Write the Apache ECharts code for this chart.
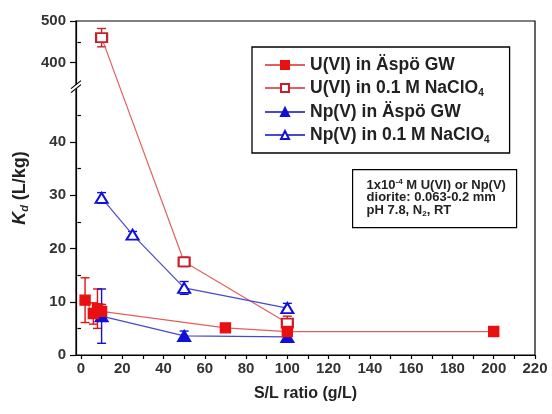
<!DOCTYPE html>
<html><head><meta charset="utf-8">
<script src="https://cdn.jsdelivr.net/npm/echarts@6/dist/echarts.min.js"></script>
<style>html,body{margin:0;padding:0;background:#fff}#c{width:552px;height:414px}</style>
</head><body><div id="c"></div><script>
// ---- tick labels ----
const xTickLabels = [0,20,40,60,80,100,120,140,160,180,200,220];
const xTicks = [0,10,20,30,40,50,60,70,80,90,100,110,120,130,140,150,160,170,180,190,200,210,220];
const yTickLabels = [0,10,20,30,40,400,500];
const yMinorTicks = [5,15,25,35,45,450];

// ---- series (x = S/L ratio g/L, y = Kd L/kg, err = +/-) ----
const uAspoX = [2,6,8,10,70,100,200];
const uAspoY = [10.3,7.8,8.7,8.2,5.1,4.4,4.4];
const uAspoErr = [4.2,2.0,3.7,1.3,0.5,0.6,0.8];

const uNaX = [10,50,100];
const uNaY = [460,17.5,6.0];
const uNaErr = [22,0.9,1.3];

const npAspoX = [10,50,100];
const npAspoY = [7.3,3.6,3.4];
const npAspoErr = [5.1,0.9,1.0];

const npNaX = [10,25,50,100];
const npNaY = [29.5,22.6,12.6,8.8];
const npNaErr = [1.0,0.6,1.2,0.9];

const names = ['U(VI) in Äspö GW','U(VI) in 0.1 M NaClO4','Np(V) in Äspö GW','Np(V) in 0.1 M NaClO4'];

// ---- broken y axis (0..48 linear, 350..500 compressed) ----
const LOW_MAX = 48, UP_MIN = 350, UP_START = 51.0, UP_K = 0.0782;
function toDisp(v){ return v <= LOW_MAX ? v : UP_START + (v - UP_MIN) * UP_K; }
function fromDisp(d){ return d <= LOW_MAX ? d : UP_MIN + (d - UP_START) / UP_K; }
const Y_MAX = toDisp(500);
const X_MIN = -2.4, X_MAX = 220;

const FONT = 'Liberation Sans';
const RED = '#e81010', RED_LINE = '#e06060', RED_DARK = '#c8202a';
const BLUE = '#1010d8', BLUE_LINE = '#4848d0';

function lineSeries(name, xs, ys, symbol, size, color, lineColor, z){
  return {
    type:'line', name, data: xs.map((x,i)=>[x, toDisp(ys[i])]),
    symbol, symbolSize:size, showAllSymbol:true,
    itemStyle:{color, borderColor:color, borderWidth:1.4},
    lineStyle:{color:lineColor, width:1.2},
    z:z, animation:false
  };
}
function errSeries(xs, ys, es, color){
  return {
    type:'custom', silent:true, z:3, animation:false,
    data: xs.map((x,i)=>[x, toDisp(ys[i]-es[i]), toDisp(ys[i]+es[i])]),
    encode:{x:0, y:[1,2]},
    renderItem:(p, api)=>{
      const lo = api.coord([api.value(0), api.value(1)]);
      const hi = api.coord([api.value(0), api.value(2)]);
      const w = 4.5;
      const st = {stroke:color, lineWidth:1.4};
      return {type:'group', children:[
        {type:'line', shape:{x1:lo[0],y1:lo[1],x2:hi[0],y2:hi[1]}, style:st},
        {type:'line', shape:{x1:lo[0]-w,y1:lo[1],x2:lo[0]+w,y2:lo[1]}, style:st},
        {type:'line', shape:{x1:hi[0]-w,y1:hi[1],x2:hi[0]+w,y2:hi[1]}, style:st}
      ]};
    }
  };
}

const chart = echarts.init(document.getElementById('c'), null, {renderer:'canvas'});
const axisLabelStyle = {fontFamily:FONT, fontSize:15, fontWeight:'bold', color:'#333'};

chart.setOption({
  animation:false,
  backgroundColor:'#fff',
  grid:{left:76, right:17, top:21, bottom:59, show:true, borderColor:'#000', borderWidth:1.2, backgroundColor:'transparent'},
  legend:{
    data:names, orient:'vertical', left:252, top:47, selectedMode:false,
    padding:[9,20,8,12], itemWidth:40, itemHeight:10, itemGap:5,
    borderColor:'#000', borderWidth:1.3, backgroundColor:'#fff',
    formatter: n => n.replace('NaClO4','NaClO{s|4}'),
    textStyle:{fontFamily:FONT, fontSize:17.5, fontWeight:'bold', color:'#222',
      rich:{s:{fontFamily:FONT, fontSize:10, fontWeight:'bold', color:'#222', padding:[10,0,0,0]}}}
  },
  xAxis:[{
    type:'value', min:X_MIN, max:X_MAX,
    axisLine:{onZero:false, lineStyle:{color:'#000', width:1.2}},
    axisTick:{customValues:xTicks, length:4, lineStyle:{color:'#000', width:1.2}},
    axisLabel:Object.assign({customValues:xTickLabels, margin:6}, axisLabelStyle),
    splitLine:{show:false},
    name:'S/L ratio (g/L)', nameLocation:'middle', nameGap:31,
    nameTextStyle:{fontFamily:FONT, fontSize:16, fontWeight:'bold', color:'#222'}
  }],
  yAxis:[{
    type:'value', min:0, max:Y_MAX,
    axisLine:{onZero:false, lineStyle:{color:'#000', width:1.2}},
    axisTick:{customValues:yTickLabels.map(toDisp), length:6, lineStyle:{color:'#000', width:1.2}},
    axisLabel:Object.assign({customValues:yTickLabels.map(toDisp), margin:10,
      formatter: v => String(Math.round(fromDisp(v)))}, axisLabelStyle),
    splitLine:{show:false},
    name:'{k|K}{d|d} (L/kg)', nameLocation:'middle', nameGap:44, nameRotate:90,
    nameTextStyle:{fontFamily:FONT, fontSize:18, fontWeight:'bold', color:'#222',
      rich:{k:{fontFamily:FONT, fontSize:18, fontWeight:'bold', fontStyle:'italic', color:'#222'},
            d:{fontFamily:FONT, fontSize:11, fontWeight:'bold', fontStyle:'italic', color:'#222', padding:[10,0,0,0]}}}
  },{
    type:'value', min:0, max:Y_MAX, position:'left',
    axisLine:{show:false},
    axisTick:{customValues:yMinorTicks.map(toDisp), length:3.5, lineStyle:{color:'#000', width:1.2}},
    axisLabel:{show:false}, splitLine:{show:false}
  }],
  series:[
    errSeries(uAspoX, uAspoY, uAspoErr, RED),
    errSeries(uNaX, uNaY, uNaErr, RED_DARK),
    errSeries(npAspoX, npAspoY, npAspoErr, BLUE),
    errSeries(npNaX, npNaY, npNaErr, BLUE),
    lineSeries(names[0], uAspoX, uAspoY, 'rect', 10, RED, RED_LINE, 5),
    lineSeries(names[1], uNaX, uNaY, 'emptyRect', [11,9], RED_DARK, RED_LINE, 4),
    lineSeries(names[2], npAspoX, npAspoY, 'triangle', [13,11], BLUE, BLUE_LINE, 4),
    lineSeries(names[3], npNaX, npNaY, 'emptyTriangle', [12,10], BLUE, BLUE_LINE, 4)
  ]
});

// break marks on the y axis and the annotation box
const bp = chart.convertToPixel({xAxisIndex:0, yAxisIndex:0}, [X_MIN, 50.4]);
const bx = bp[0], by = bp[1];
chart.setOption({
  graphic:[
    {type:'polygon', z:100, shape:{points:[[bx-5,by+2],[bx+5,by-6],[bx+5,by-2],[bx-5,by+6]]}, style:{fill:'#fff'}},
    {type:'line', z:101, shape:{x1:bx-5,y1:by+2,x2:bx+5,y2:by-6}, style:{stroke:'#000', lineWidth:1.2}},
    {type:'line', z:101, shape:{x1:bx-5,y1:by+6,x2:bx+5,y2:by-2}, style:{stroke:'#000', lineWidth:1.2}},
    {type:'group', left:352, top:169, z:50, children:[
      {type:'rect', shape:{x:0,y:0,width:164,height:58}, style:{fill:'#fff', stroke:'#000', lineWidth:1.2}},
      {type:'text', x:14, y:9, style:{
        text:'1x10{p|-4} M U(VI) or Np(V)\ndiorite: 0.063-0.2 mm\npH 7.8, N{b|2}, RT',
        font:'bold 13px ' + FONT, fill:'#222', lineHeight:12.8,
        rich:{p:{font:'bold 8px '+FONT, fill:'#222', padding:[0,0,6,0]},
              b:{font:'bold 8px '+FONT, fill:'#222', padding:[6,0,0,0]}}
      }}
    ]}
  ]
});
</script></body></html>
